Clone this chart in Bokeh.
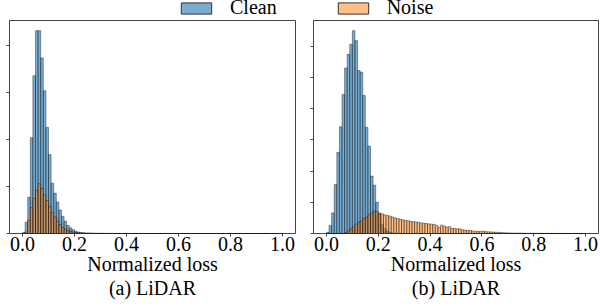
import numpy as np
from bokeh.plotting import figure
from bokeh.models import ColumnDataSource, FixedTicker, Range1d, Title, Legend, LegendItem
from bokeh.layouts import row, column
from bokeh.embed import file_html
from bokeh.resources import INLINE

# ---------------- data ----------------
bin_edges = np.round(np.linspace(0.0, 1.0, 101), 2)   # 100 bins on normalized loss
x_ticks = [0.0, 0.2, 0.4, 0.6, 0.8, 1.0]
x_tick_labels = ["0.0", "0.2", "0.4", "0.6", "0.8", "1.0"]
y_ticks_a = [0, 1000, 2000, 3000, 4000]
y_ticks_b = [0, 1000, 2000, 3000, 4000, 5000, 6000]
series_names = ["Clean", "Noise"]
panel_titles = ["(a) LiDAR", "(b) LiDAR"]
x_label = "Normalized loss"

clean_a = [20, 240, 770, 2040, 3360, 4320, 4320, 3740, 3040, 2260,
           1680, 1070, 860, 670, 500, 360, 260, 170, 120, 80,
           50, 30, 20, 15, 10, 10, 7, 5, 4, 3,
           3, 2, 2, 2, 1, 1, 1, 1, 1, 1,
           1, 1, 1, 1, 1]
noise_a = [0, 30, 280, 550, 750, 920, 1060, 960, 820, 700,
           570, 450, 350, 260, 190, 130, 90, 60, 40, 30,
           20, 15, 10, 8, 6, 5, 4, 3, 2, 2,
           1, 1, 1]
clean_b = [40, 260, 660, 1570, 2600, 3420, 4450, 5300, 5740, 6060,
           6500, 6180, 5220, 5170, 4420, 3400, 2800, 1840, 1550, 1000,
           660, 300, 150, 80, 40, 20, 10, 5, 3, 2,
           1, 1]
noise_b = [0, 0, 0, 0, 0, 0, 2, 30, 90, 150,
           220, 300, 360, 400, 480, 520, 600, 660, 720, 700,
           620, 630, 600, 580, 560, 530, 500, 480, 460, 440,
           420, 410, 390, 380, 370, 360, 340, 330, 320, 310,
           300, 290, 260, 200, 270, 240, 200, 220, 160, 160,
           150, 150, 120, 110, 100, 100, 80, 75, 70, 65,
           80, 60, 55, 50, 45, 40, 35, 30, 25, 20,
           20, 15, 15, 12, 12, 10, 10, 8, 8, 7,
           6, 5, 5, 4, 4, 4, 3, 3, 3, 3,
           2, 2, 2, 2, 2, 2, 1, 1, 1, 1]

def pad(v):
    return list(v) + [0] * (100 - len(v))

BLUE = "#1f77b4"
ORANGE = "#ff7f0e"
FONT = "Liberation Serif"
EDGE = dict(line_color="black", line_alpha=0.55, line_width=0.7)


def make_panel(clean, noise, title, y_ticks, border_left, border_right, frame_w):
    clean = pad(clean)
    noise = pad(noise)
    ymax = max(max(clean), max(noise)) * 1.05
    p = figure(frame_width=frame_w, frame_height=213,
               x_range=Range1d(-0.05, 1.05), y_range=Range1d(0, ymax),
               output_backend="svg", toolbar_location=None,
               min_border_left=border_left, min_border_right=border_right,
               min_border_top=0, min_border_bottom=73)
    src = ColumnDataSource(dict(left=bin_edges[:-1], right=bin_edges[1:],
                                clean=clean, noise=noise))
    p.quad(left="left", right="right", bottom=0, top="clean", source=src,
           fill_color=BLUE, fill_alpha=0.6, **EDGE)
    p.quad(left="left", right="right", bottom=0, top="noise", source=src,
           fill_color=ORANGE, fill_alpha=0.5, **EDGE)
    p.grid.visible = False
    p.outline_line_color = "#444444"
    p.outline_line_width = 1
    p.background_fill_color = "white"

    xa = p.xaxis[0]
    xa.ticker = FixedTicker(ticks=x_ticks)
    xa.major_label_overrides = {t: l for t, l in zip(x_ticks, x_tick_labels)}
    xa.axis_line_color = None
    xa.major_tick_in = 0
    xa.major_tick_out = 3
    xa.minor_tick_line_color = None
    xa.major_tick_line_color = "#444444"
    xa.major_label_standoff = 0
    xa.major_label_text_font = FONT
    xa.major_label_text_font_size = "20px"
    xa.major_label_text_color = "black"
    xa.axis_label = x_label
    xa.axis_label_text_font = FONT
    xa.axis_label_text_font_size = "20px"
    xa.axis_label_text_font_style = "normal"
    xa.axis_label_text_color = "black"
    xa.axis_label_standoff = -1
    xa.axis_label_text_line_height = 1.0

    ya = p.yaxis[0]
    ya.ticker = FixedTicker(ticks=y_ticks)
    ya.axis_line_color = None
    ya.major_tick_in = 0
    ya.major_tick_out = 3
    ya.minor_tick_line_color = None
    ya.major_tick_line_color = "#444444"
    ya.major_label_text_font_size = "0px"
    ya.major_label_text_color = None
    ya.major_label_standoff = 0

    t = Title(text=title, align="center", text_font=FONT, text_font_size="20px",
              text_font_style="normal", text_color="black", standoff=-5,
              text_line_height=1.0)
    p.add_layout(t, "below")
    return p, src


p1, src_a = make_panel(clean_a, noise_a, panel_titles[0], y_ticks_a, 9, 5, 286)
p2, src_b = make_panel(clean_b, noise_b, panel_titles[1], y_ticks_b, 13, 2, 285)

# legend strip above both panels (its ranges keep the data itself out of view)
lf = figure(width=600, height=20, x_axis_type=None, y_axis_type=None,
            x_range=Range1d(-3, -2), y_range=Range1d(-3, -2),
            toolbar_location=None, output_backend="svg", min_border=0,
            outline_line_color=None)
lf.grid.visible = False
r1 = lf.quad(left="left", right="right", bottom=0, top="clean", source=src_a,
             fill_color=BLUE, fill_alpha=0.6, line_color="#333333", line_width=1)
r2 = lf.quad(left="left", right="right", bottom=0, top="noise", source=src_a,
             fill_color=ORANGE, fill_alpha=0.5, line_color="#333333", line_width=1)
legend = Legend(items=[LegendItem(label=series_names[0], renderers=[r1]),
                       LegendItem(label=series_names[1], renderers=[r2])],
                orientation="horizontal", location=(177, 1),
                glyph_width=38, glyph_height=14, label_standoff=15, spacing=57,
                padding=0, margin=0, border_line_color=None,
                background_fill_alpha=0, label_text_font=FONT,
                label_text_font_size="20px", label_height=20,
                label_text_color="black")
lf.add_layout(legend, "center")

layout = column(lf, row(p1, p2))

open("out.html", "w").write(file_html(layout, INLINE))
